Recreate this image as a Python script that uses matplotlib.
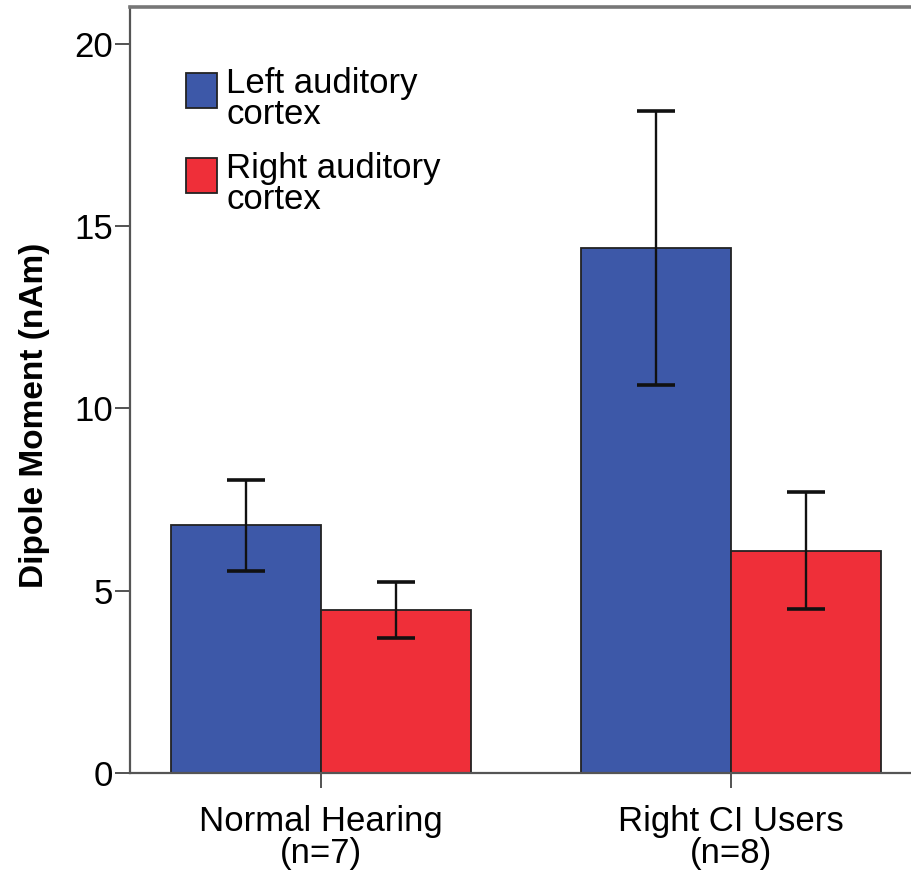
import matplotlib.pyplot as plt
import numpy as np
from matplotlib.patches import Rectangle

groups = ["Normal Hearing\n(n=7)", "Right CI Users\n(n=8)"]
series = ["Left auditory\ncortex", "Right auditory\ncortex"]
left_means = [6.8, 14.4]
left_err_low = [5.55, 10.65]
left_err_high = [8.05, 18.15]
right_means = [4.47, 6.1]
right_err_low = [3.7, 4.5]
right_err_high = [5.25, 7.72]
colors = ["#3d58a8", "#ef2f39"]

plt.rcParams["font.family"] = ["Liberation Sans", "DejaVu Sans"]

fig = plt.figure(figsize=(9.11, 8.73), dpi=100)
ax = fig.add_axes((0.1427, 0.1145, 0.8573, 0.877))

x = np.arange(len(groups))
w = 0.366
means = [left_means, right_means]
lows = [left_err_low, right_err_low]
highs = [left_err_high, right_err_high]
for i, (m, lo, hi) in enumerate(zip(means, lows, highs)):
    m = np.array(m)
    pos = x - w / 2 if i == 0 else x + w / 2
    yerr = [m - np.array(lo), np.array(hi) - m]
    ax.bar(pos, m, width=w, color=colors[i], edgecolor="#222222", linewidth=1.3, zorder=2)
    eb = ax.errorbar(pos, m, yerr=yerr, fmt="none", ecolor="#111111", elinewidth=1.7,
                     capsize=13.5, capthick=2.6, zorder=3)
    for cap in eb[1]:
        cap.set_color("#4a4a4a")

ax.set_xlim(-0.466, 1.44)
ax.set_ylim(0, 21)
ax.set_yticks([0, 5, 10, 15, 20])
ax.set_xticks(x)
ax.set_xticklabels(groups, fontsize=25, linespacing=0.95)
ax.tick_params(axis="y", labelsize=25, length=11, width=1.3, color="#444444", pad=1)
ax.tick_params(axis="x", length=11, width=1.3, color="#444444", pad=12)
ax.set_ylabel("Dipole Moment (nAm)", fontsize=24, fontweight="bold")
ax.yaxis.set_label_coords(-0.1025, 0.467)

ax.spines["right"].set_visible(False)
for s in ["left", "bottom"]:
    ax.spines[s].set_color("#555555")
    ax.spines[s].set_linewidth(1.6)
ax.spines["top"].set_color("#777777")
ax.spines["top"].set_linewidth(2.6)

# legend drawn by hand so the swatch lines up with the first text line
sw_x, sw_w, sw_h = 0.0717, 0.0397, 0.046
sw_tops = [0.914, 0.803]
for c, lab, top in zip(colors, series, sw_tops):
    ax.add_patch(Rectangle((sw_x, top - sw_h), sw_w, sw_h, transform=ax.transAxes,
                           facecolor=c, edgecolor="#222222", linewidth=1.3, zorder=4))
    ax.text(0.123, top + 0.008, lab, transform=ax.transAxes, fontsize=25,
            va="top", ha="left", linespacing=0.92, zorder=4)

fig.savefig("out.png", dpi=100)
